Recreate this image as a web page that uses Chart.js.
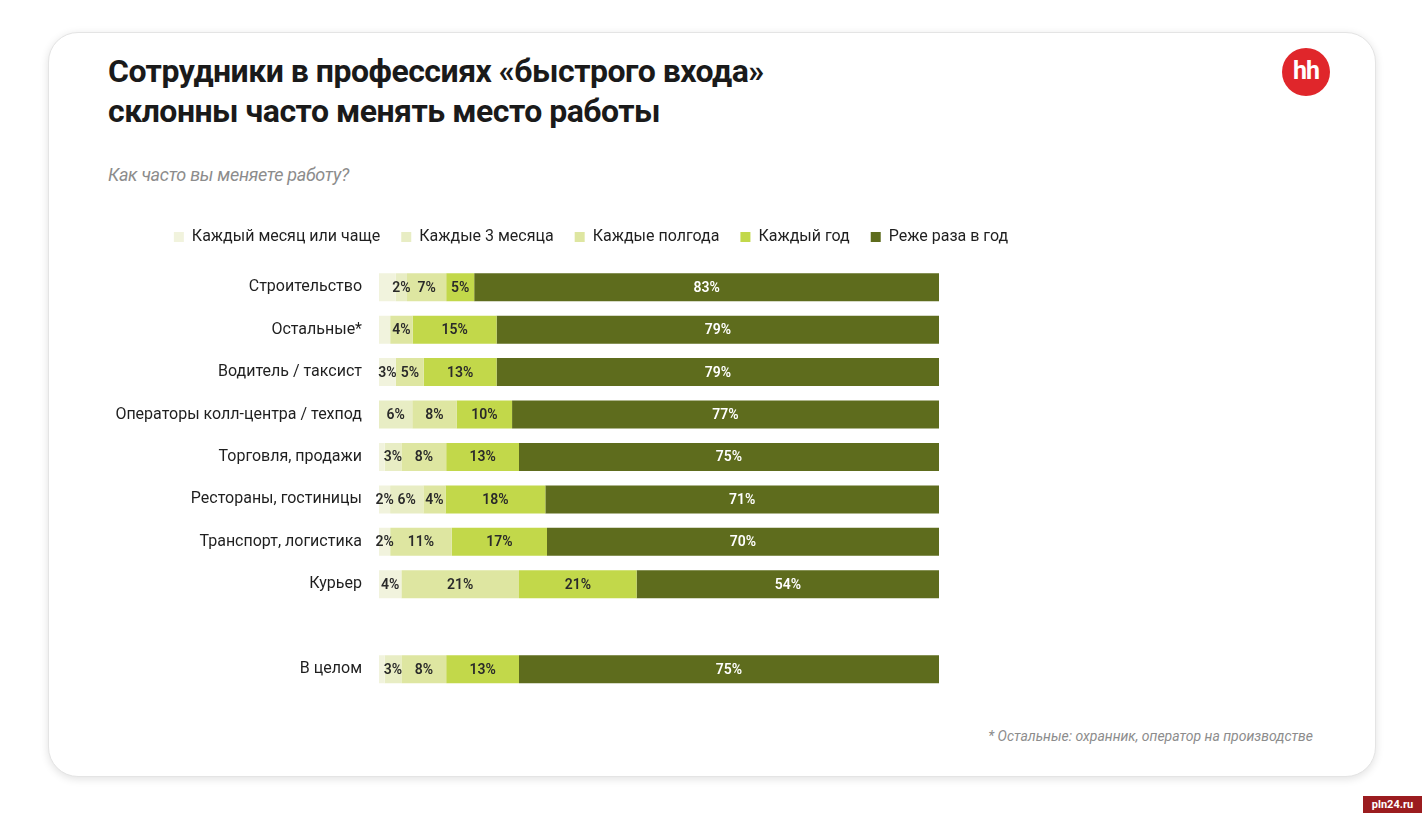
<!DOCTYPE html>
<html lang="ru">
<head>
<meta charset="utf-8">
<script src="https://cdn.jsdelivr.net/npm/chart.js@4.4.1/dist/chart.umd.min.js"></script>
<style>
  body { margin: 0; background: #fff; font-family: Roboto, "Noto Sans", sans-serif; }
  #page { position: relative; width: 1422px; height: 813px; overflow: hidden; }
  #card { position: absolute; left: 48px; top: 32px; width: 1326px; height: 743px;
          border-radius: 30px; background: #fff; border: 1px solid #e4e4e4;
          box-shadow: 0 2px 8px rgba(0,0,0,0.12); }
  #title { position: absolute; left: 108px; top: 51px; font-size: 32px; font-weight: 700;
           line-height: 40px; color: #1a1a1a; letter-spacing: -0.5px; }
  #question { position: absolute; left: 108px; top: 164px; font-size: 18px; font-style: italic;
              color: #8c8c8c; letter-spacing: -0.3px; }
  #logo { position: absolute; left: 1282px; top: 48px; width: 48px; height: 48px; border-radius: 50%;
          background: #e0262b; color: #fff; font-weight: 700; font-size: 25px; text-align: center;
          line-height: 45px; letter-spacing: -1px; }
  #note { position: absolute; right: 109px; top: 728px; font-size: 14px; font-style: italic; color: #8c8c8c; }
  #mark { position: absolute; left: 1363px; top: 796px; width: 59px; height: 17px; background: #9b1c1f;
          color: #fff; font-size: 11px; font-weight: 700; text-align: center; line-height: 17px; }
  #chart { position: absolute; left: 100px; top: 208px; }
</style>
</head>
<body>
<div id="page">
  <div id="card"></div>
  <div id="title">Сотрудники в профессиях «быстрого входа»<br>склонны часто менять место работы</div>
  <div id="question">Как часто вы меняете работу?</div>
  <div id="logo">hh</div>
  <canvas id="chart" width="982" height="501"></canvas>
  <div id="note">* Остальные: охранник, оператор на производстве</div>
  <div id="mark">pln24.ru</div>
</div>
<script>
const categories = ['Строительство', 'Остальные*', 'Водитель / таксист', 'Операторы колл-центра / техпод',
    'Торговля, продажи', 'Рестораны, гостиницы', 'Транспорт, логистика', 'Курьер', '', 'В целом'];
const seriesNames = ['Каждый месяц или чаще', 'Каждые 3 месяца', 'Каждые полгода', 'Каждый год', 'Реже раза в год'];
const seriesColors = ['#f1f3dd', '#e8edc4', '#dee6a1', '#c2d84a', '#5e6c1d'];

// values per series, one entry per category (the empty slot is the gap before "В целом")
const monthly   = [3, 2, 3, 0, 1, 2, 2, 4, 0, 1];
const quarterly = [2, 0, 0, 6, 3, 6, 0, 0, 0, 3];
const halfYear  = [7, 4, 5, 8, 8, 4, 11, 21, 0, 8];
const yearly    = [5, 15, 13, 10, 13, 18, 17, 21, 0, 13];
const rarer     = [83, 79, 79, 77, 75, 71, 70, 54, 0, 75];

// segments shown without a printed value: [series, category]
const unlabeled = [[0, 0], [0, 1], [0, 4], [0, 9]];

const series = [monthly, quarterly, halfYear, yearly, rarer];
const rowSums = categories.map((c, i) => series.reduce((s, arr) => s + arr[i], 0));

const datasets = series.map((arr, k) => ({
    label: seriesNames[k],
    data: arr.map((v, i) => rowSums[i] ? v / rowSums[i] * 100 : 0),
    raw: arr,
    backgroundColor: seriesColors[k],
    borderWidth: 0,
    barPercentage: 0.66,
    categoryPercentage: 1
}));

const segmentLabels = {
    id: 'segmentLabels',
    afterDatasetsDraw(chart) {
        const ctx = chart.ctx;
        ctx.save();
        ctx.font = '600 14px Roboto';
        ctx.textAlign = 'center';
        ctx.textBaseline = 'middle';
        chart.data.datasets.forEach((ds, k) => {
            chart.getDatasetMeta(k).data.forEach((bar, i) => {
                const v = ds.raw[i];
                if (!v) return;
                if (unlabeled.some(u => u[0] === k && u[1] === i)) return;
                ctx.fillStyle = k === 4 ? '#ffffff' : '#2a2a2a';
                ctx.fillText(v + '%', (bar.x + bar.base) / 2, bar.y + 1);
            });
        });
        ctx.restore();
    }
};

// a bit more room under the legend
const legendGap = {
    id: 'legendGap',
    beforeInit(chart) {
        const fit = chart.legend.fit;
        chart.legend.fit = function () {
            fit.call(this);
            this.height += 11;
        };
    }
};

new Chart(document.getElementById('chart'), {
    type: 'bar',
    data: { labels: categories, datasets: datasets },
    options: {
        indexAxis: 'y',
        responsive: false,
        animation: false,
        scales: {
            x: { stacked: true, min: 0, max: 100, display: false },
            y: {
                stacked: true,
                grid: { display: false },
                border: { display: false },
                afterFit(scale) { scale.width = 279; },
                ticks: { padding: 9, color: '#1f1f1f', font: { family: 'Roboto', size: 16 } }
            },
            // empty right-hand axis that keeps the bars clear of the right side
            yRight: {
                position: 'right',
                grid: { display: false },
                border: { display: false },
                ticks: { display: false },
                afterFit(scale) { scale.width = 143; }
            }
        },
        plugins: {
            tooltip: { enabled: false },
            legend: {
                position: 'top',
                labels: {
                    boxWidth: 10, boxHeight: 10, padding: 21,
                    color: '#1f1f1f', font: { family: 'Roboto', size: 16 }
                }
            }
        }
    },
    plugins: [segmentLabels, legendGap]
});
</script>
</body>
</html>
